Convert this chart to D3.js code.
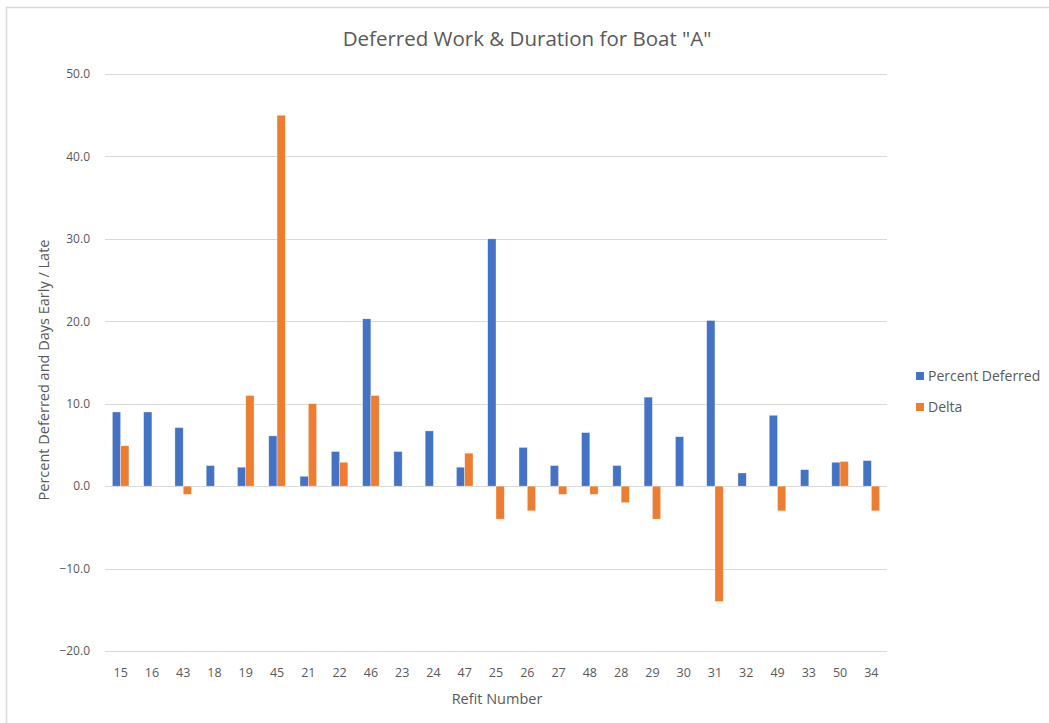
<!DOCTYPE html>
<html lang="en">
<head>
    <meta charset="utf-8">
    <title>Deferred Work & Duration for Boat "A"</title>
    <style>
        body { margin: 0; background: #fff; }
        svg text { font-family: 'Open Sans', sans-serif; fill: #595959; }
        .grid line { stroke: #d9d9d9; stroke-width: 1px; }
        .bar { stroke: #fff; stroke-width: 0.6px; stroke-opacity: 0.6; }
    </style>
</head>
<body>
<svg id="chart" width="1049" height="723"></svg>
<script src="https://d3js.org/d3.v7.min.js"></script>
<script>
// refit numbers in the order they appear on the axis
const refits = ["15","16","43","18","19","45","21","22","46","23","24","47","25",
                "26","27","48","28","29","30","31","32","49","33","50","34"];
const percentDeferred = [9.0, 9.0, 7.1, 2.5, 2.3, 6.1, 1.2, 4.2, 20.3, 4.2, 6.7, 2.3, 30.0,
                         4.7, 2.5, 6.5, 2.5, 10.8, 6.0, 20.1, 1.6, 8.6, 2.0, 2.9, 3.1];
const delta = [4.9, 0, -1.0, 0, 11.0, 45.0, 10.0, 2.9, 11.0, 0, 0, 4.0, -4.0,
               -3.0, -1.0, -1.0, -2.0, -4.0, 0, -14.0, 0, -3.0, 0, 3.0, -3.0];
const yTicks = [-20, -10, 0, 10, 20, 30, 40, 50];
const seriesNames = ["Percent Deferred", "Delta"];
const colors = ["#4472c4", "#ed7d31"];

const svg = d3.select("#chart");

// outer chart frame
svg.append("rect")
    .attr("x", 6.5).attr("y", 7.5)
    .attr("width", 1100).attr("height", 800)
    .attr("fill", "none")
    .attr("stroke", "#d9d9d9")
    .attr("stroke-width", 1.5);

let margin = {left: 105, right: 162, top: 74, bottom: 72};
let width = 1049 - margin.left - margin.right,
    height = 723 - margin.top - margin.bottom;

let chart = svg.append("g")
    .attr("transform", "translate(" + margin.left + "," + margin.top + ")");

let xScale = d3.scaleBand()
    .domain(refits)
    .range([0, width])
    .paddingInner(0.47)
    .paddingOuter(0.235);

let xSub = d3.scaleBand()
    .domain(seriesNames)
    .range([0, xScale.bandwidth()]);

let yScale = d3.scaleLinear()
    .domain([-20, 50])
    .range([height, 0]);

// gridlines
chart.append("g")
    .attr("class", "grid")
    .selectAll("line")
    .data(yTicks)
    .join("line")
    .attr("x1", 0).attr("x2", width)
    .attr("y1", d => Math.round(yScale(d)) + 0.5)
    .attr("y2", d => Math.round(yScale(d)) + 0.5);

// y-axis labels
chart.append("g")
    .attr("class", "axis axis-y")
    .call(d3.axisLeft(yScale).tickValues(yTicks).tickFormat(d3.format(".1f")).tickSize(0).tickPadding(15))
    .call(g => g.select(".domain").remove())
    .selectAll("text")
    .style("font-size", "12px")
    .style("fill", "#595959");

// x-axis labels
chart.append("g")
    .attr("class", "axis axis-x")
    .attr("transform", "translate(0," + height + ")")
    .call(d3.axisBottom(xScale).tickSize(0).tickPadding(17))
    .call(g => g.select(".domain").remove())
    .selectAll("text")
    .style("font-size", "12.5px")
    .style("fill", "#595959");

// bars
const series = [percentDeferred, delta];
series.forEach((vals, si) => {
    chart.append("g")
        .selectAll("rect")
        .data(vals.map((v, i) => ({refit: refits[i], value: v})))
        .join("rect")
        .attr("class", "bar")
        .attr("x", d => xScale(d.refit) + xSub(seriesNames[si]))
        .attr("width", xSub.bandwidth())
        .attr("y", d => yScale(Math.max(0, d.value)))
        .attr("height", d => Math.abs(yScale(d.value) - yScale(0)))
        .attr("fill", colors[si]);
});

// title
svg.append("text")
    .attr("x", 527).attr("y", 46)
    .attr("text-anchor", "middle")
    .style("font-size", "20.5px")
    .text('Deferred Work & Duration for Boat "A"');

// axis titles
svg.append("text")
    .attr("x", 497).attr("y", 704)
    .attr("text-anchor", "middle")
    .style("font-size", "14.5px")
    .text("Refit Number");

svg.append("text")
    .attr("transform", "translate(49,370) rotate(-90)")
    .attr("text-anchor", "middle")
    .style("font-size", "14.5px")
    .text("Percent Deferred and Days Early / Late");

// legend
let legend = svg.append("g").attr("transform", "translate(916,372)");
seriesNames.forEach((name, i) => {
    let row = legend.append("g").attr("transform", "translate(0," + (i * 31) + ")");
    row.append("rect").attr("width", 8).attr("height", 8).attr("fill", colors[i]);
    row.append("text").attr("x", 12).attr("y", 9).style("font-size", "14px").text(name);
});
</script>
</body>
</html>
